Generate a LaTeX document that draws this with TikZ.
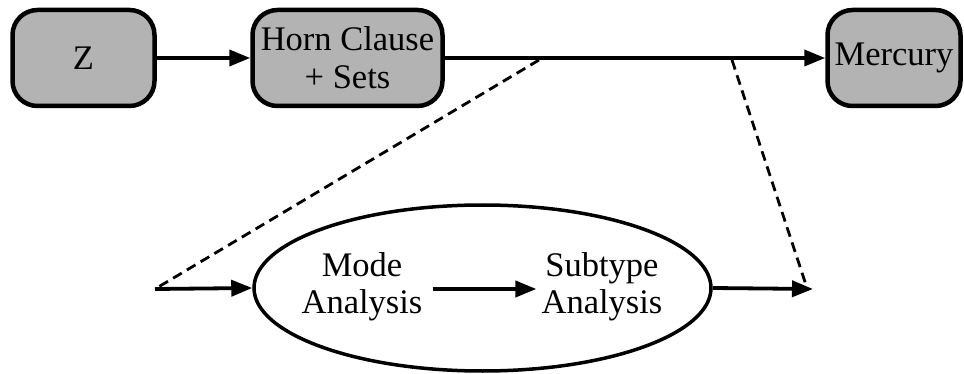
\documentclass[tikz,border=0pt]{standalone}
\usepackage{fontspec}
\setmainfont{Liberation Serif}
\usetikzlibrary{arrows.meta,shapes.geometric}
\definecolor{boxgray}{HTML}{B3B3B3}
\tikzset{
  stage/.style={draw=black, fill=boxgray, line width=4.5pt, rounded corners=25pt,
    minimum height=96pt, inner sep=0pt, align=center,
    font=\fontsize{34.5}{38}\selectfont},
  label/.style={inner xsep=0pt, inner ysep=0pt, align=center,
    font=\fontsize{34.5}{37}\selectfont},
  flow/.style={line width=3.8pt, -{Triangle[length=21pt,width=16pt]}},
  zoomline/.style={line width=2.8pt, dash pattern=on 10pt off 6pt}
}
\begin{document}
\begin{tikzpicture}[x=1pt, y=-1pt]
  \useasboundingbox (0,0) rectangle (964,374);

  % translation pipeline
  \node[stage, minimum width=142pt] (z) at (83.5,58) {Z};
  \node[stage, minimum width=190pt] (horn) at (347.5,58) {Horn Clause\\+ Sets};
  \node[stage, minimum width=133pt] (merc) at (894,58) {Mercury};

  \draw[flow] (z.east) -- (horn.west);
  \draw[flow] (horn.east) -- (merc.west);

  % detail of the Horn clause to Mercury step
  \node[draw, ellipse, line width=3.5pt, minimum width=457pt, minimum height=166pt,
        inner sep=0pt] (ell) at (482.5,288) {};
  \node[label] (mode) at (362,287) {Mode\\Analysis};
  \node[label] (sub) at (602,287) {Subtype\\Analysis};

  \coordinate (in) at (155,289);
  \coordinate (out) at (813,289);
  \coordinate (za) at (539,60);
  \coordinate (zb) at (732,60);
  \coordinate (outd) at (807,288);

  \draw[flow] (in) -- (ell.west);
  \draw[flow] ([xshift=10pt]mode.east |- 0,289) -- ([xshift=-5pt]sub.west |- 0,289);
  \draw[flow] (ell.east) -- (out);

  \draw[zoomline] (za) -- (in);
  \draw[zoomline] (zb) -- (outd);
\end{tikzpicture}
\end{document}
